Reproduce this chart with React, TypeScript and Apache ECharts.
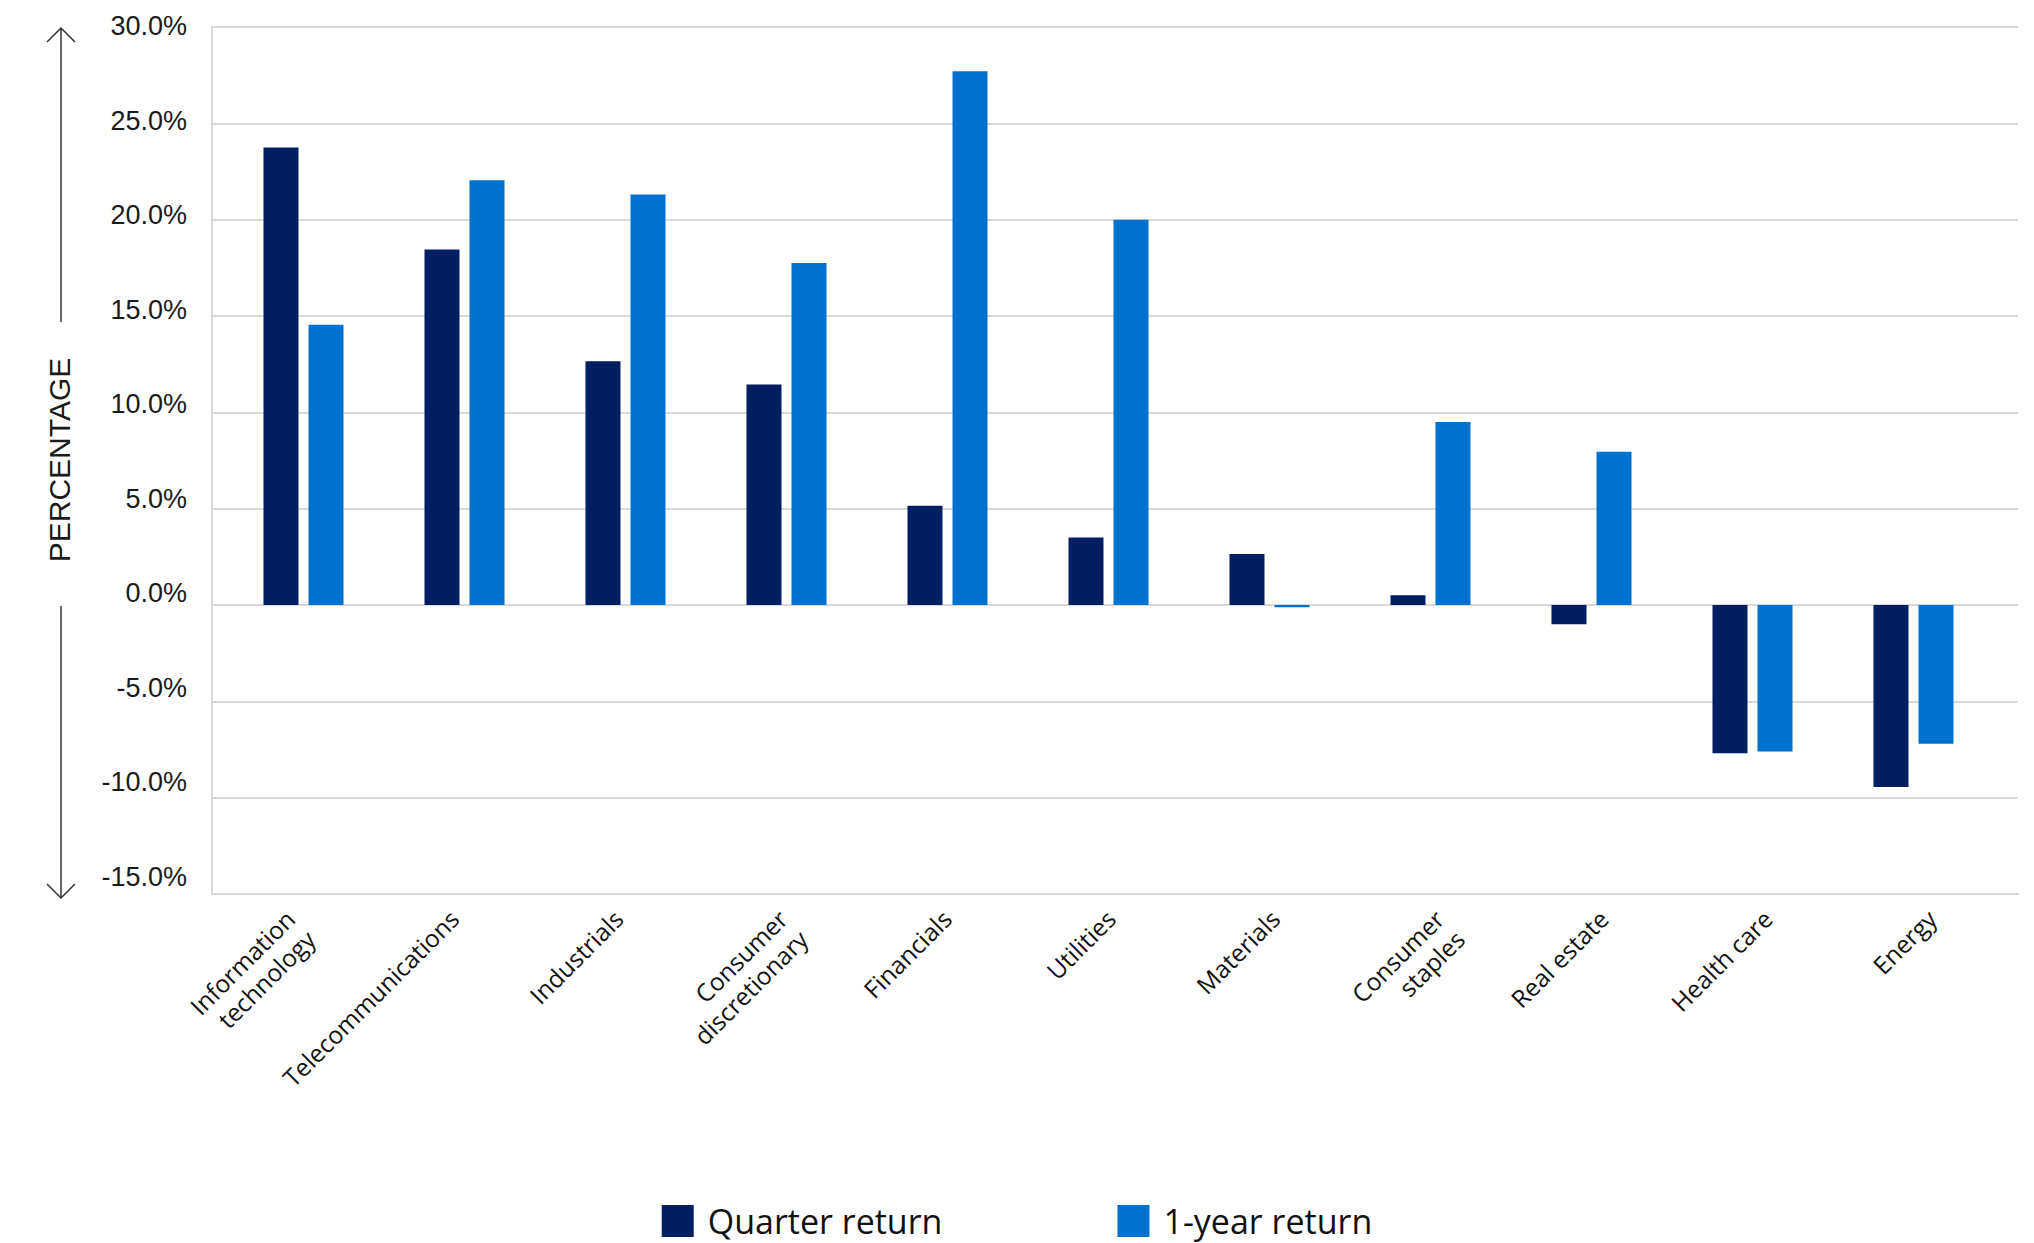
import React, { useEffect, useRef } from "react";
import * as echarts from "echarts";

const categories = [
  "Information\ntechnology",
  "Telecommunications",
  "Industrials",
  "Consumer\ndiscretionary",
  "Financials",
  "Utilities",
  "Materials",
  "Consumer\nstaples",
  "Real estate",
  "Health care",
  "Energy",
];
const quarterReturn = [23.75, 18.45, 12.65, 11.45, 5.15, 3.5, 2.65, 0.5, -1.0, -7.7, -9.45];
const yearReturn = [14.55, 22.05, 21.3, 17.75, 27.7, 20.0, -0.12, 9.5, 7.95, -7.6, -7.2];
const seriesNames = ["Quarter return", "1-year return"];
const seriesColors = ["#001E62", "#0072CE"];
const yMin = -15;
const yMax = 30;
const yStep = 5;

export default function App() {
  const ref = useRef<HTMLDivElement>(null);
  useEffect(() => {
    if (!ref.current) return;
    const chart = echarts.init(ref.current, undefined, { renderer: "svg" });
    const gridColor = "#d9d9d9";
    const hiddenAxis = {
      show: false,
      axisLine: { show: false },
      axisTick: { show: false },
      axisLabel: { show: false },
      splitLine: { show: false },
    };
    chart.setOption({
      animation: false,
      backgroundColor: "#ffffff",
      grid: [
        // axes, gridlines, category labels
        { left: 212, right: 16, top: 27, bottom: 349, containLabel: false },
        // bars
        { left: 223, right: 40, top: 27, bottom: 349, containLabel: false },
        // value labels
        { left: 212, right: 16, top: 26, bottom: 366, containLabel: false },
      ],
      legend: {
        data: seriesNames,
        top: 1199,
        left: "center",
        itemWidth: 32,
        itemHeight: 32,
        itemGap: 175,
        icon: "rect",
        textStyle: {
          fontFamily: "Open Sans",
          fontSize: 34,
          lineHeight: 30,
          color: "#111",
          padding: [0, 0, 0, 9],
        },
      },
      xAxis: [
        {
          type: "category",
          gridIndex: 0,
          data: categories,
          axisLine: { onZero: false, lineStyle: { color: gridColor, width: 2 } },
          axisTick: { alignWithLabel: true, length: 11, lineStyle: { color: gridColor, width: 2 } },
          axisLabel: {
            rotate: 45,
            interval: 0,
            align: "right",
            verticalAlign: "top",
            margin: -4,
            padding: [0, 20, 0, 0],
            fontFamily: "Open Sans",
            fontSize: 24.5,
            color: "#111",
            lineHeight: 29,
          },
        },
        { type: "category", gridIndex: 1, data: categories, ...hiddenAxis },
        { type: "category", gridIndex: 2, data: categories, ...hiddenAxis },
      ],
      yAxis: [
        {
          type: "value",
          gridIndex: 0,
          min: yMin,
          max: yMax,
          interval: yStep,
          axisLine: { show: true, lineStyle: { color: gridColor, width: 2 } },
          axisTick: { show: false },
          splitLine: { lineStyle: { color: gridColor, width: 2 } },
          axisLabel: { show: false },
        },
        { type: "value", gridIndex: 1, min: yMin, max: yMax, interval: yStep, ...hiddenAxis },
        {
          type: "value",
          gridIndex: 2,
          min: yMin,
          max: yMax,
          interval: yStep,
          axisLine: { show: false },
          axisTick: { show: false },
          splitLine: { show: false },
          axisLabel: {
            formatter: (v: number) => v.toFixed(1) + "%",
            fontFamily: "Liberation Sans",
            fontSize: 27,
            color: "#1a1a1a",
            margin: 25,
          },
        },
      ],
      series: [
        {
          name: seriesNames[0],
          type: "bar",
          xAxisIndex: 1,
          yAxisIndex: 1,
          data: quarterReturn,
          barWidth: 35,
          barGap: "28.6%",
          itemStyle: { color: seriesColors[0] },
        },
        {
          name: seriesNames[1],
          type: "bar",
          xAxisIndex: 1,
          yAxisIndex: 1,
          data: yearReturn,
          barWidth: 35,
          barGap: "28.6%",
          itemStyle: { color: seriesColors[1] },
        },
      ],
      graphic: [
        {
          type: "line",
          shape: { x1: 61, y1: 322, x2: 61, y2: 28 },
          style: { stroke: "#333", lineWidth: 1.5 },
        },
        {
          type: "polyline",
          shape: { points: [[47, 42], [61, 28], [75, 42]] },
          style: { stroke: "#333", lineWidth: 1.5, fill: null },
        },
        {
          type: "line",
          shape: { x1: 61, y1: 606, x2: 61, y2: 898 },
          style: { stroke: "#333", lineWidth: 1.5 },
        },
        {
          type: "polyline",
          shape: { points: [[47, 884], [61, 898], [75, 884]] },
          style: { stroke: "#333", lineWidth: 1.5, fill: null },
        },
        {
          type: "text",
          x: 59,
          y: 460,
          rotation: Math.PI / 2,
          style: {
            text: "PERCENTAGE",
            fontFamily: "Liberation Sans",
            fontSize: 30,
            fill: "#1a1a1a",
            textAlign: "center",
            textVerticalAlign: "middle",
          },
        },
      ],
    });
    return () => chart.dispose();
  }, []);
  return (
    <div
      ref={ref}
      style={{ position: "absolute", left: 0, top: 0, width: 2034, height: 1243 }}
    />
  );
}
